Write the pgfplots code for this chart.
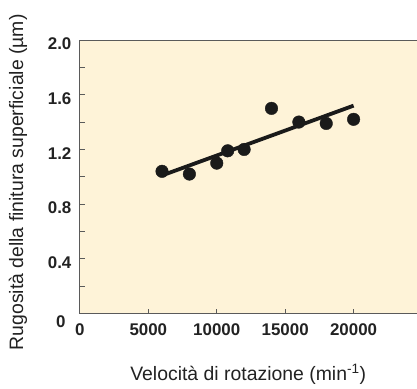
\documentclass[border=0pt]{standalone}
\usepackage{fontspec}
\setmainfont{Liberation Sans}
\usepackage{pgfplots}
\pgfplotsset{compat=1.18}
\definecolor{cream}{HTML}{FEF3D8}
\definecolor{axgray}{HTML}{5A5A5A}
\definecolor{txt}{HTML}{222222}
\definecolor{dots}{HTML}{1A1A1A}
\begin{document}
\begin{tikzpicture}
\begin{axis}[
  scale only axis,
  width=337bp, height=274bp,
  xmin=0, xmax=24600,
  ymin=0, ymax=2,
  axis lines=left,
  axis line style={-, axgray, line width=0.9bp},
  axis background/.style={fill=cream},
  clip=false,
  xtick={0,5000,10000,15000,20000},
  xticklabels={0,5000,10000,15000,20000},
  ytick={0,0.2,0.4,0.6,0.8,1.0,1.2,1.4,1.6,1.8,2.0},
  yticklabels={,,0.4,,0.8,,1.2,,1.6,,2.0},
  tick style={axgray, line width=0.9bp},
  tick align=inside,
  major tick length=5bp,
  scaled x ticks=false,
  /pgf/number format/assume math mode=true,
  ticklabel style={font=\fontsize{17}{20}\selectfont\bfseries, text=txt},
  yticklabel style={yshift=-4bp, xshift=-5bp},
  xticklabel style={yshift=-7bp},
  xlabel={Velocità di rotazione (min\textsuperscript{-1})},
  ylabel={Rugosità della finitura superficiale (µm)},
  label style={font=\fontsize{19.5}{23}\selectfont, text=txt},
  xlabel style={at={(axis description cs:0.5,-0.2226)}, anchor=center},
  ylabel style={at={(axis description cs:-0.184,0.48)}, anchor=center, rotate=0},
]
\draw[axgray, line width=0.9bp] (rel axis cs:0,1) -- (rel axis cs:1,1);
\addplot[dots, line width=3.8bp, no marks] coordinates {(6000,1.01) (20000,1.52)};
\addplot[only marks, mark=*, mark size=6.3bp, mark options={fill=dots, draw=dots}] coordinates {
(6000,1.04) (8000,1.02) (10000,1.10) (10800,1.19) (12000,1.20)
(14000,1.50) (16000,1.40) (18000,1.39) (20000,1.42)};
\node[font=\fontsize{17}{20}\selectfont\bfseries, text=txt] at (rel axis cs:0,0) [xshift=-19bp, yshift=-8bp] {0};
\useasboundingbox (rel axis cs:0,0) ++(-80bp,-71bp) rectangle ++(417bp,385bp);
\end{axis}
\end{tikzpicture}
\end{document}
